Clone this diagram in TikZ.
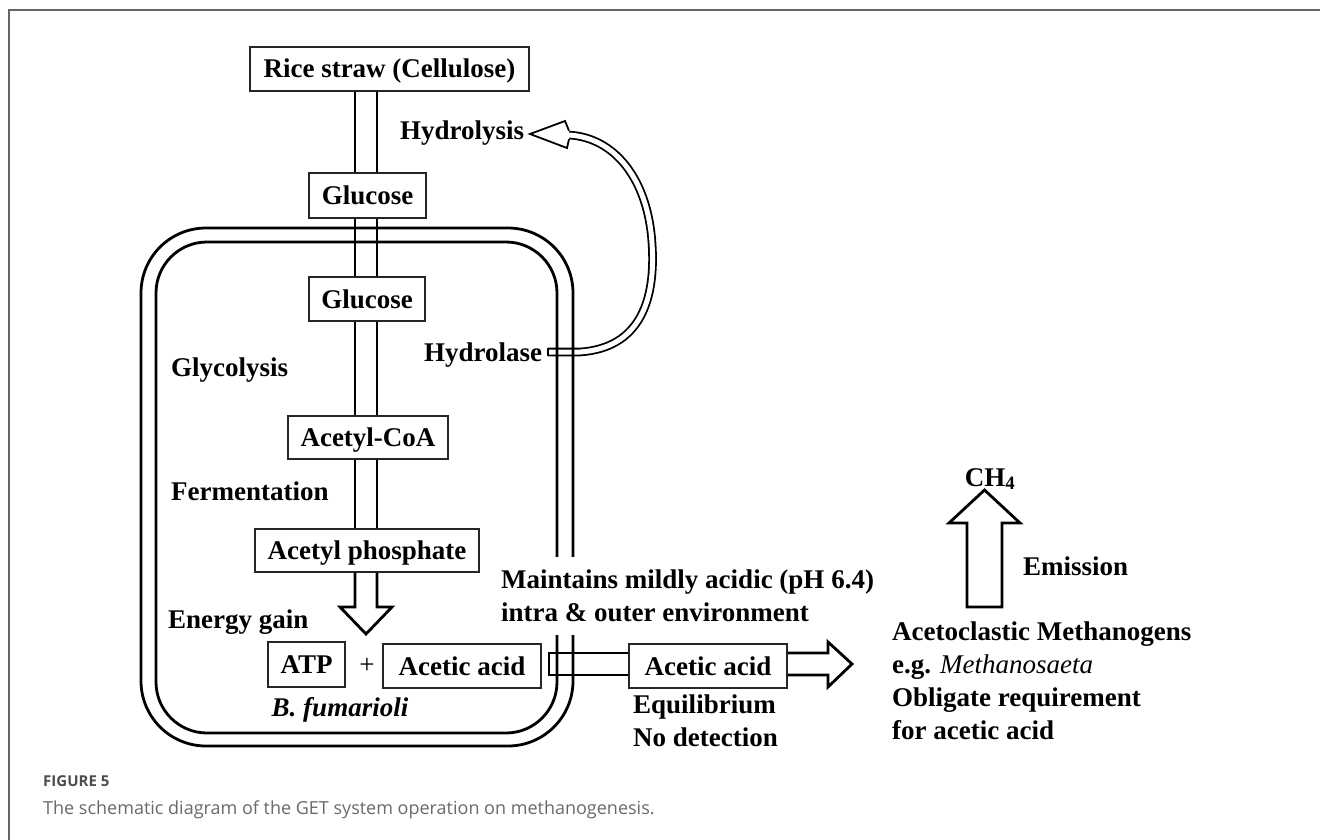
\documentclass[tikz,border=0pt]{standalone}
\usepackage{fontspec}
\setmainfont{Liberation Serif}
\newfontfamily\capfont{Open Sans}
\usetikzlibrary{calc}
\definecolor{framec}{HTML}{666666}
\definecolor{figc}{HTML}{4D4D4D}
\definecolor{capc}{HTML}{6A6A6A}
\begin{document}
\begin{tikzpicture}[x=1pt,y=-1pt,
  lbl/.style={font=\fontsize{27}{33}\selectfont\bfseries, inner sep=0, anchor=base west},
  box/.style={draw=black!85, line width=1.3, fill=white, font=\fontsize{27}{33}\selectfont\bfseries, inner sep=0, text height=18pt, text depth=0pt},
  wall/.style={line width=2.8, black},
  pipe/.style={line width=2.8, black, line join=miter},
  dbl/.style={black, line width=1.8, double=white, double distance=5}]
\useasboundingbox (0,0) rectangle (1320,840);
\fill[white] (0,0) rectangle (1320,840);
\draw[framec, line width=1.5] (9,840) -- (9,10) -- (1320,10);

% boxes
\node[box, minimum width=279, minimum height=44] (rice) at (389.5,69) {Rice straw (Cellulose)};
\node[box, minimum width=117, minimum height=45] (glc1) at (367.5,195.5) {Glucose};
\node[box, minimum width=116, minimum height=44] (glc2) at (367,299) {Glucose};
\node[box, minimum width=160, minimum height=43] (acoa) at (368,437.5) {Acetyl-CoA};
\node[box, minimum width=224, minimum height=43] (aph) at (367,550.5) {Acetyl phosphate};
\node[box, minimum width=77, minimum height=45] (atp) at (306.5,664.5) {ATP};
\node[box, minimum width=158, minimum height=44] (aa1) at (462,666) {Acetic acid};
\node[box, minimum width=158, minimum height=44] (aa2) at (708,666) {Acetic acid};
\node[font=\fontsize{27}{33}\selectfont, inner sep=0] (plus) at (367,666) {+};

% labels
\node[lbl] (hydrolysis) at (400,140) {Hydrolysis};
\node[lbl] (hydrolase) at (424,361) {Hydrolase};
\node[lbl] (glyc) at (171,376) {Glycolysis};
\node[lbl] (ferm) at (171,500) {Fermentation};
\node[lbl] (egain) at (168,628) {Energy gain};

% curved hydrolysis arrow (under the cell walls)
\coordinate (hlt) at (548,352);
\coordinate (hlh) at (530,134);
\draw[dbl] (hlt) -- (580,352) .. controls (640,348) and (656,300) .. (652,243)
   .. controls (648,180) and (615,137) .. (568,135);
\draw[line width=1.8] (548,347.6) -- (548,356.4);
\filldraw[fill=white, line width=1.8, line join=miter] (569,130.7) -- (565,121) -- (hlh) -- (567,148) -- (569,139.3);

% cell walls
\draw[wall, rounded corners=65] (141,228) rectangle (573,746);
\draw[wall, rounded corners=51] (156,242) rectangle (557,733);

% vertical pipe
\coordinate (pL) at (355,0);
\coordinate (pR) at (377,0);
\foreach \a/\b in {rice/glc1, glc1/glc2, glc2/acoa, acoa/aph}{
  \draw[pipe] (pL |- \a.south) -- (pL |- \b.north);
  \draw[pipe] (pR |- \a.south) -- (pR |- \b.north);
}
\draw[pipe] (pL |- aph.south) -- (355,607) -- (340,607) -- (366,634) -- (392,607) -- (377,607) -- (pR |- aph.south);

% horizontal pipe and arrow
\draw[pipe] (aa2.west |- 0,653) -- (549,653) -- (549,675) -- (aa2.west |- 0,675);
\draw[pipe] (aa2.east |- 0,653) -- (828,653) -- (828,642) -- (852,664) -- (828,687) -- (828,675) -- (aa2.east |- 0,675);

% text covering the wall
\fill[white] (545,557) rectangle (585,635);
\node[lbl] (main1) at (501,588) {Maintains mildly acidic (pH 6.4)};
\node[lbl] (main2) at (501,621) {intra \& outer environment};
\node[lbl] (equi) at (633,713) {Equilibrium};
\node[lbl] (nodet) at (633,746) {No detection};
\node[lbl, anchor=base] (bf) at (340,716) {\itshape B. fumarioli};

% methanogens
\draw[pipe] (967,607) -- (967,523) -- (949,523) -- (984.5,490) -- (1020,523) -- (1002,523) -- (1002,607) -- cycle;
\node[lbl, anchor=base] (ch4) at (990,486) {CH\textsubscript{4}};
\node[lbl] (emis) at (1023,575) {Emission};
\node[lbl] (aceto) at (892,640) {Acetoclastic Methanogens};
\node[lbl] (eg) at (892,673) {e.g. {\mdseries\itshape Methanosaeta}};
\node[lbl] (oblig) at (892,706) {Obligate requirement};
\node[lbl] (forac) at (892,739) {for acetic acid};

% caption
\node[font=\capfont\fontsize{15}{18}\selectfont\bfseries, text=figc, inner sep=0, anchor=base west] (fig) at (43,786) {FIGURE 5};
\node[font=\capfont\fontsize{18}{22}\selectfont, text=capc, inner sep=0, anchor=base west] (cap) at (43,814) {The schematic diagram of the GET system operation on methanogenesis.};
\end{tikzpicture}
\end{document}
